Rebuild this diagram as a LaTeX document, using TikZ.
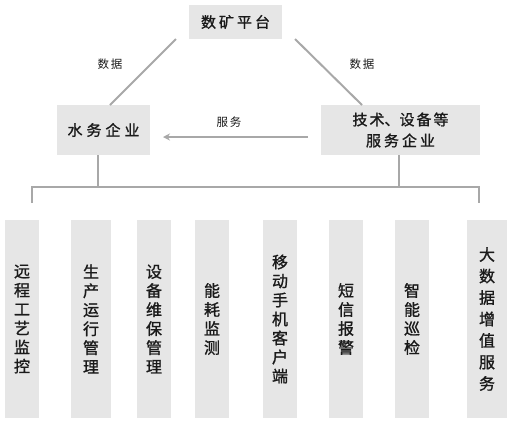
\documentclass[tikz,border=0pt]{standalone}
\usepackage{fontspec}
\usetikzlibrary{arrows.meta}
\newfontfamily\cjk[FakeBold=1.2]{Noto Sans CJK SC}
\newfontfamily\cjklab{Noto Sans CJK SC}
\definecolor{boxgray}{HTML}{E6E6E6}
\definecolor{linegray}{HTML}{A8A8A8}
\definecolor{txt}{HTML}{1A1A1A}
\begin{document}
\begin{tikzpicture}[x=1pt,y=-1pt,
  box/.style={fill=boxgray,draw=none,inner sep=0pt,text=txt,font=\cjk\fontsize{15}{21}\selectfont,align=center},
  vbox/.style={fill=boxgray,draw=none,inner sep=0pt,text=txt,minimum width=34pt,minimum height=198pt,
    font=\cjk\fontsize{16}{19}\selectfont,align=center},
  lab/.style={inner sep=0pt,text=txt,font=\cjklab\fontsize{11.5}{13}\selectfont},
  conn/.style={draw=linegray,line width=2pt}]
\useasboundingbox (0,0) rectangle (513,445);
% top boxes
\node[box,minimum width=93pt,minimum height=34pt] (p) at (235.5,22) {数\hspace{3pt}矿\hspace{3pt}平\hspace{3pt}台};
\node[box,minimum width=93pt,minimum height=50pt] (w) at (103.5,130) {水\hspace{4pt}务\hspace{4pt}企\hspace{4pt}业};
\node[box,minimum width=159pt,minimum height=50pt] (s) at (400.5,130) {技\hspace{2pt}术、设\hspace{2pt}备\hspace{2pt}等\\服\hspace{3pt}务\hspace{3pt}企\hspace{3pt}业};
% triangle lines
\coordinate (pl) at (176,39);
\coordinate (pr) at (295,39);
\coordinate (wt) at (110,105);
\coordinate (st) at (362,105);
\draw[conn] (pl) -- (wt);
\draw[conn] (pr) -- (st);
\node[lab] (l1) at (110,64) {数\hspace{2pt}据};
\node[lab] (l2) at (362,64) {数\hspace{2pt}据};
% service arrow
\coordinate (as) at (308,137);
\coordinate (ae) at (163,137);
\draw[conn,-{Stealth[length=7pt,width=7pt]}] (as) -- (ae);
\node[lab] (l3) at (229,122) {服\hspace{2pt}务};
% bracket
\coordinate (wb) at (98,155);
\coordinate (sb) at (399,155);
\coordinate (bl) at (32,203);
\coordinate (br) at (479,203);
\draw[conn] (wb) -- (wb |- 0,187);
\draw[conn] (sb) -- (sb |- 0,187);
\draw[conn] (bl) -- (bl |- 0,187) -- (br |- 0,187) -- (br);
% vertical boxes
\node[vbox] (b1) at (22,319) {远\\程\\工\\艺\\监\\控};
\node[vbox,minimum width=40pt] (b2) at (91,319) {生\\产\\运\\行\\管\\理};
\node[vbox] (b3) at (154,319) {设\\备\\维\\保\\管\\理};
\node[vbox] (b4) at (212,319) {能\\耗\\监\\测};
\node[vbox] (b5) at (280,319) {移\\动\\手\\机\\客\\户\\端};
\node[vbox] (b6) at (346,319) {短\\信\\报\\警};
\node[vbox] (b7) at (412,319) {智\\能\\巡\\检};
\node[vbox,minimum width=40pt,font=\cjk\fontsize{16}{21.5}\selectfont] (b8) at (487,319) {大\\数\\据\\增\\值\\服\\务};
\end{tikzpicture}
\end{document}
